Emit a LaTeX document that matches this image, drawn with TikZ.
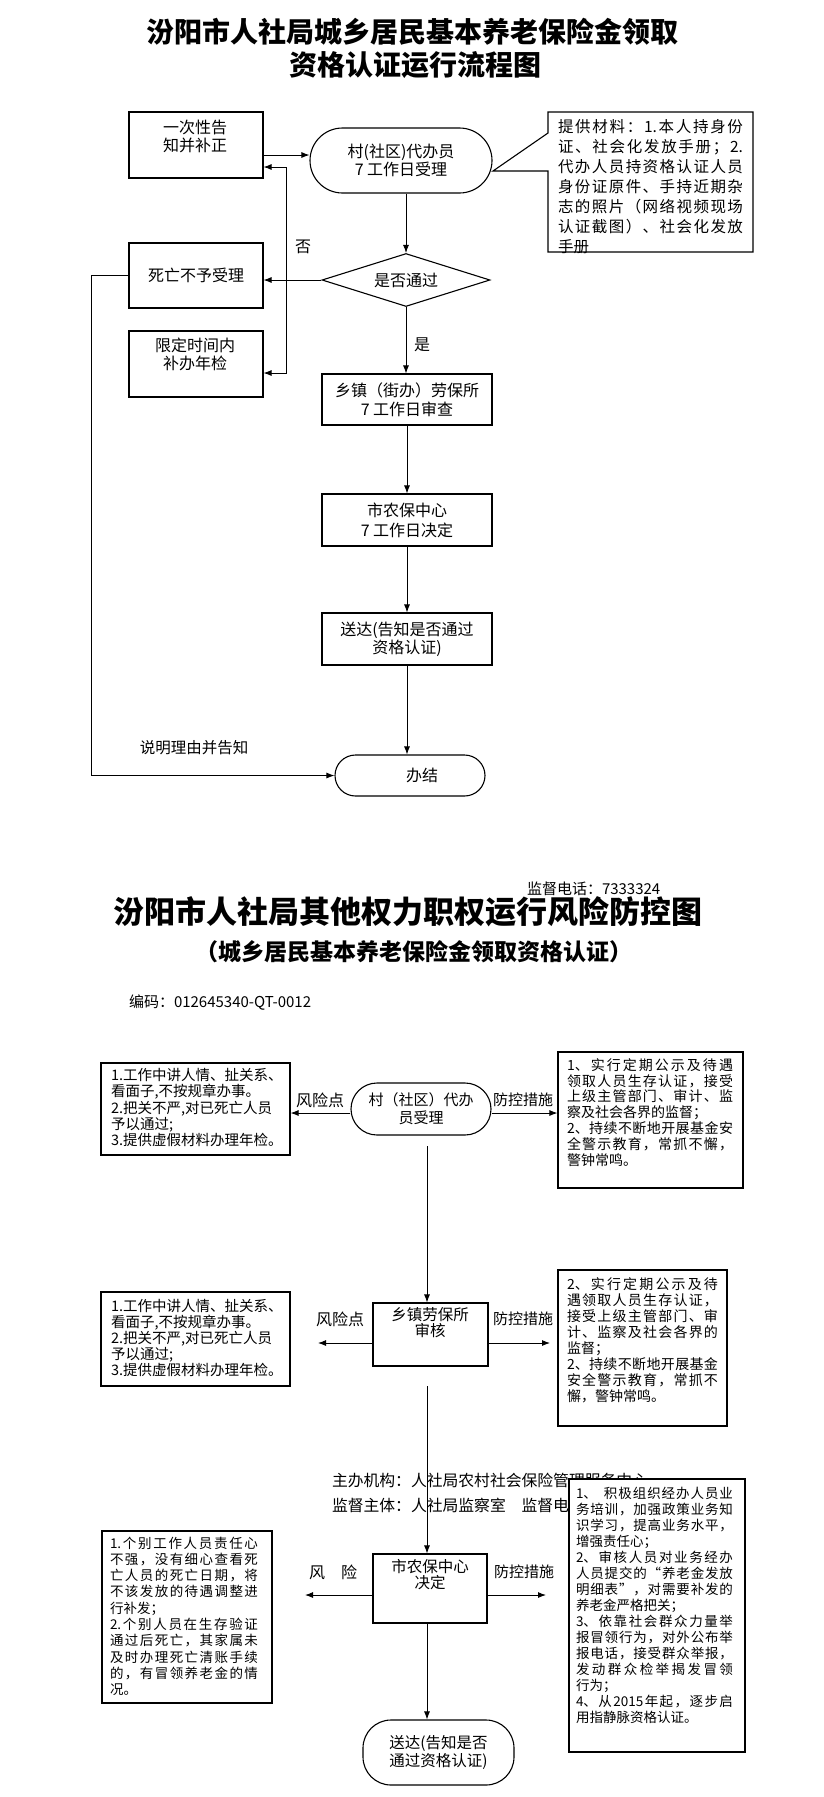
\documentclass[tikz,border=0pt]{standalone}
\usepackage{fontspec}
\setmainfont{Noto Sans CJK SC}
\usetikzlibrary{shapes.geometric,arrows.meta}
\makeatletter
\newcommand\jl[1]{\leavevmode\hbox to \hsize{\@tfor\jlx:=#1\do{\jlx\hfil}\unskip}}
\makeatother
\newcommand\nl[1]{\leavevmode\hbox{#1}}
\newcommand\fsz[2]{\fontsize{#1}{#2}\selectfont}
\begin{document}
\begin{tikzpicture}[x=1pt,y=-1pt,
  box/.style={draw, line width=1.1pt, rectangle, inner sep=0pt},
  arr/.style={draw, line width=0.9pt, -{Latex[length=8pt,width=6pt]}},
  tb/.style={anchor=base west, inner sep=0pt, outer sep=0pt, align=left},
  lbl/.style={inner sep=0pt, outer sep=0pt, align=center}]
\path[use as bounding box, fill=white] (0,0) rectangle (823,1797);

% ---------------- top chart ----------------
\node[lbl, font=\fsz{28}{34}\bfseries] (t1) at (412,32) {汾阳市人社局城乡居民基本养老保险金领取};
\node[lbl, font=\fsz{28}{34}\bfseries] (t2) at (415,65) {资格认证运行流程图};

\node[box, minimum width=134pt, minimum height=66pt] (A) at (196,145) {};
\node[lbl, font=\fsz{16}{18}] (Atx) at (195,136) {一次性告\\知并补正};

\node[box, minimum width=182pt, minimum height=65pt, rounded corners=32.5pt, align=center, font=\fsz{16}{18}] (B) at (401,160.5) {村(社区)代办员\\7 工作日受理};

\draw[line width=1.1pt] (548,133) -- (548,112) -- (753,112) -- (753,252) -- (548,252) -- (548,171) -- (493,171) -- cycle;
\node[tb, text width=185pt, font=\fsz{15.5}{20}] (Ctx) at (558,132.8) {\jl{提供材料：{1.}本人持身份}\\\jl{证、社会化发放手册；{2.}}\\\jl{代办人员持资格认证人员}\\\jl{身份证原件、手持近期杂}\\\jl{志的照片（网络视频现场}\\\jl{认证截图）、社会化发放}\\\nl{手册}};

\node[draw, line width=1.1pt, diamond, aspect=3.2, inner sep=0pt, minimum width=168pt, minimum height=53pt, font=\fsz{16}{18}] (dia) at (406,280) {是否通过};

\node[box, minimum width=134pt, minimum height=65pt, font=\fsz{16}{18}] (D) at (196,275.5) {死亡不予受理};
\node[box, minimum width=134pt, minimum height=66pt] (E) at (196,364) {};
\node[lbl, font=\fsz{16}{18}] (Etx) at (195,354) {限定时间内\\补办年检};

\node[box, minimum width=170pt, minimum height=51pt, align=center, font=\fsz{16}{19}] (F) at (407,399.5) {乡镇（街办）劳保所\\7 工作日审查};
\node[box, minimum width=170pt, minimum height=52pt, align=center, font=\fsz{16}{20}] (G) at (407,520) {市农保中心\\7 工作日决定};
\node[box, minimum width=170pt, minimum height=52pt, align=center, font=\fsz{16}{18}] (H) at (407,639) {送达(告知是否通过\\资格认证)};
\node[box, minimum width=150pt, minimum height=41pt, rounded corners=20.5pt] (I) at (410,775.5) {};
\node[lbl, font=\fsz{16}{18}] (Itx) at (422,775) {办结};

\node[lbl, font=\fsz{16}{18}] (no) at (303,247) {否};
\node[lbl, font=\fsz{16}{18}] (yes) at (422,345) {是};
\node[lbl, font=\fsz{15.5}{18}] (expl) at (194,748) {说明理由并告知};

\coordinate (jx) at (286,0);
\draw[arr] ([yshift=-10pt]A.east) -- ([yshift=-10pt]A.east -| B.west);
\draw[arr] (dia.north |- B.south) -- (dia.north);
\draw[arr] (dia.west) -- (dia.west -| D.east);
\draw[arr] (dia.west -| jx) |- ([yshift=-22pt]A.east);
\draw[arr] (dia.west -| jx) |- ([yshift=-9pt]E.east);
\draw[arr] (dia.south) -- (dia.south |- F.north);
\draw[arr] (F.south) -- (G.north);
\draw[arr] (G.south) -- (H.north);
\draw[arr] (H.south) -- (H.south |- I.north);
\draw[arr] (D.west) -- ++(-37,0) |- (I.west);

% ---------------- risk chart ----------------
\node[lbl, anchor=west, font=\fsz{15}{18}] (phone) at (527,889) {监督电话：7333324};
\node[lbl, font=\fsz{31}{36}\bfseries] (t3) at (408,912) {汾阳市人社局其他权力职权运行风险防控图};
\node[lbl, font=\fsz{23}{28}\bfseries] (t4) at (414,952) {（城乡居民基本养老保险金领取资格认证）};
\node[lbl, anchor=west, font=\fsz{15}{18}] (code) at (129,1003) {编码：012645340-QT-0012};

% level 1
\node[box, minimum width=189pt, minimum height=92pt] (J) at (195.5,1109) {};
\node[tb, text width=178pt, font=\fsz{14.5}{16.3}] (Jtx) at (111,1080.4) {\nl{1.工作中讲人情、扯关系、}\\\nl{看面子,不按规章办事。}\\\nl{2.把关不严,对已死亡人员}\\\nl{予以通过;}\\\nl{3.提供虚假材料办理年检。}};
\node[box, minimum width=140pt, minimum height=52pt, rounded corners=26pt, align=center, font=\fsz{15}{18}] (K) at (421,1109) {村（社区）代办\\员受理};
\node[box, minimum width=185pt, minimum height=136pt] (L) at (650.5,1120) {};
\node[tb, text width=166pt, font=\fsz{14}{15.8}] (Ltx) at (567,1070.3) {\jl{{1、}实行定期公示及待遇}\\\jl{领取人员生存认证，接受}\\\jl{上级主管部门、审计、监}\\\nl{察及社会各界的监督；}\\\jl{{2、}持续不断地开展基金安}\\\jl{全警示教育，常抓不懈，}\\\nl{警钟常鸣。}};
\node[lbl, font=\fsz{16}{18}] (rk1) at (320,1100) {风险点};
\node[lbl, font=\fsz{15}{18}] (ct1) at (523,1100) {防控措施};
\draw[arr] ([yshift=-4pt]K.west) -- ([yshift=-4pt]K.west -| J.east);
\draw[arr] ([yshift=-4pt]K.east) -- ([yshift=-4pt]K.east -| L.west);

% level 2
\coordinate (k1) at (427,1146);
\node[box, minimum width=115pt, minimum height=63pt] (M) at (430.5,1334.5) {};
\node[lbl, font=\fsz{15.5}{16}] (Mtx) at (430,1323) {乡镇劳保所\\审核};
\draw[arr] (k1) -- (k1 |- M.north);
\node[box, minimum width=189pt, minimum height=94pt] (J2) at (195.5,1339) {};
\node[tb, text width=178pt, font=\fsz{14.5}{16}] (J2tx) at (111,1311.4) {\nl{1.工作中讲人情、扯关系、}\\\nl{看面子,不按规章办事。}\\\nl{2.把关不严,对已死亡人员}\\\nl{予以通过;}\\\nl{3.提供虚假材料办理年检。}};
\node[box, minimum width=169pt, minimum height=156pt] (N) at (642.5,1348) {};
\node[tb, text width=151pt, font=\fsz{14}{16}] (Ntx) at (567,1289.3) {\jl{{2、}实行定期公示及待}\\\jl{遇领取人员生存认证，}\\\jl{接受上级主管部门、审}\\\jl{计、监察及社会各界的}\\\nl{监督；}\\\jl{{2、}持续不断地开展基金}\\\jl{安全警示教育，常抓不}\\\nl{懈，警钟常鸣。}};
\coordinate (mL) at (318,1343);
\coordinate (mR) at (550,1343);
\draw[arr] (M.west |- mL) -- (mL);
\draw[arr] (M.east |- mR) -- (mR);
\node[lbl, font=\fsz{16}{18}] (rk2) at (340,1319) {风险点};
\node[lbl, font=\fsz{15}{18}] (ct2) at (523,1319) {防控措施};

% organiser text (partly covered by box P)
\node[lbl, anchor=west, font=\fsz{15.8}{18}] (org1) at (332,1480) {主办机构：人社局农村社会保险管理服务中心};
\node[lbl, anchor=west, font=\fsz{15.8}{18}] (org2) at (332,1505) {监督主体：人社局监察室　监督电话：7333324};

% level 3
\coordinate (m1) at (427,1386);
\node[box, minimum width=114pt, minimum height=69pt] (G2) at (430,1588.5) {};
\node[lbl, font=\fsz{15.5}{16}] (G2tx) at (430,1575) {市农保中心\\决定};
\draw[arr] (m1) -- (m1 |- G2.north);
\node[box, fill=white, minimum width=176pt, minimum height=273pt] (P) at (657,1615.5) {};
\node[tb, text width=157pt, font=\fsz{13.5}{16}] (Ptx) at (576,1498) {\jl{{1、\hspace{6pt}}积极组织经办人员业}\\\jl{务培训，加强政策业务知}\\\jl{识学习，提高业务水平，}\\\nl{增强责任心；}\\\jl{{2、}审核人员对业务经办}\\\jl{人员提交的“养老金发放}\\\jl{明细表”，对需要补发的}\\\nl{养老金严格把关；}\\\jl{{3、}依靠社会群众力量举}\\\jl{报冒领行为，对外公布举}\\\jl{报电话，接受群众举报，}\\\jl{发动群众检举揭发冒领}\\\nl{行为；}\\\jl{{4、}从{2015}年起，逐步启}\\\nl{用指静脉资格认证。}};
\node[box, minimum width=170pt, minimum height=172pt] (Q) at (187,1617) {};
\node[tb, text width=148pt, font=\fsz{13.5}{16.3}] (Qtx) at (110,1548) {\jl{{1.}个别工作人员责任心}\\\jl{不强，没有细心查看死}\\\jl{亡人员的死亡日期，将}\\\jl{不该发放的待遇调整进}\\\nl{行补发；}\\\jl{{2.}个别人员在生存验证}\\\jl{通过后死亡，其家属未}\\\jl{及时办理死亡清账手续}\\\jl{的，有冒领养老金的情}\\\nl{况。}};
\coordinate (gL) at (305,1595);
\coordinate (gR) at (546,1595);
\draw[arr] (G2.west |- gL) -- (gL);
\draw[arr] (G2.east |- gR) -- (gR);
\node[lbl, font=\fsz{16}{18}] (rk3) at (333,1572) {风　险};
\node[lbl, font=\fsz{15}{18}] (ct3) at (524,1572) {防控措施};
\node[box, minimum width=151pt, minimum height=65pt, rounded corners=28pt, align=center, font=\fsz{15.5}{16}] (R) at (438.5,1752.5) {送达(告知是否\\通过资格认证)};
\draw[arr] (G2.south -| m1) -- (R.north -| m1);
\end{tikzpicture}
\end{document}
